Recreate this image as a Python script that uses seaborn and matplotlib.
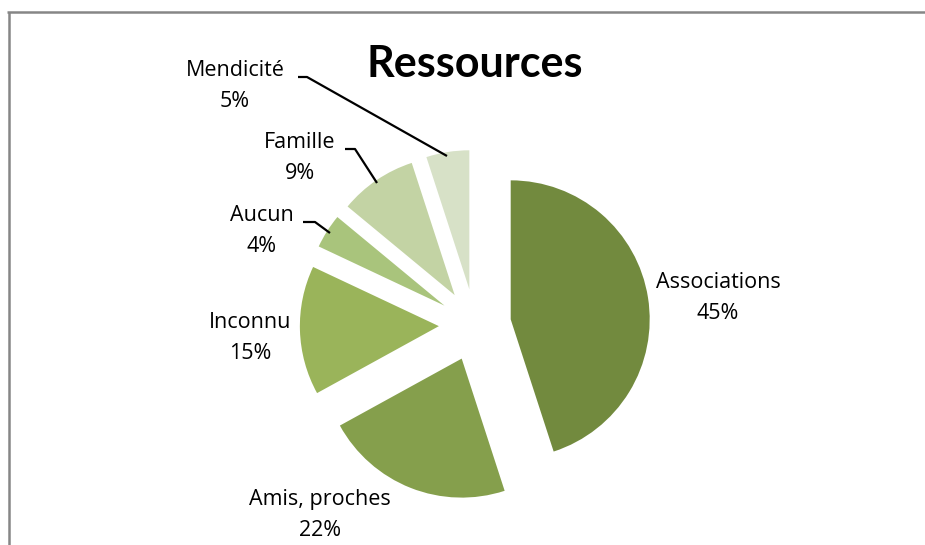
import matplotlib
matplotlib.use("Agg")
import matplotlib.pyplot as plt
import seaborn as sns

# ---- data ----
categories = ["Associations", "Amis, proches", "Inconnu", "Aucun", "Famille", "Mendicité"]
values = [45, 22, 15, 4, 9, 5]
colors = ["#728a3e", "#859f4c", "#9ab45a", "#a9c47c", "#c3d3a4", "#d7e1c7"]
title = "Ressources"

sns.set_theme(style="white")
plt.rcParams["font.family"] = ["Open Sans", "DejaVu Sans"]

W, H = 925, 545
fig = plt.figure(figsize=(W / 100, H / 100), dpi=100)
ax = fig.add_axes([0, 0, 1, 1])

cx, cy, r = 475, H - 325, 139
ax.pie(values, colors=colors, startangle=90, counterclock=False,
       explode=[0.26 * r] * len(values), center=(cx, cy), radius=r,
       wedgeprops=dict(linewidth=0), frame=True)
ax.set_xlim(0, W)
ax.set_ylim(0, H)
ax.set_aspect("equal")
ax.axis("off")

# label positions (pixel coords, y from top)
label_pos = {
    "Associations": (718, 298),
    "Amis, proches": (320, 515),
    "Inconnu": (250, 338),
    "Aucun": (262, 231),
    "Famille": (300, 158),
    "Mendicité": (235, 86),
}
for cat, v in zip(categories, values):
    x, y = label_pos[cat]
    ax.text(x, H - y, f"{cat}\n{v}%", ha="center", va="center",
            fontsize=15.5, linespacing=1.68, color="#000000")

# leader lines
leaders = [
    [(298, 77), (307, 77), (447, 156)],
    [(345, 149), (355, 149), (377, 183)],
    [(303, 222), (315, 222), (330, 233)],
]
for pts in leaders:
    ax.plot([p[0] for p in pts], [H - p[1] for p in pts], color="black", lw=1.6,
            solid_capstyle="butt")

ax.text(475, H - 64, title, ha="center", va="center", fontsize=31,
        fontweight="bold", color="black", family=["Lato", "DejaVu Sans"])

# chart frame
ax.plot([7, W], [H - 12, H - 12], color="#868686", lw=1.8, solid_capstyle="butt")
ax.plot([9, 9], [H - 12, 0], color="#868686", lw=1.8, solid_capstyle="butt")

fig.savefig("out.png", dpi=100)
